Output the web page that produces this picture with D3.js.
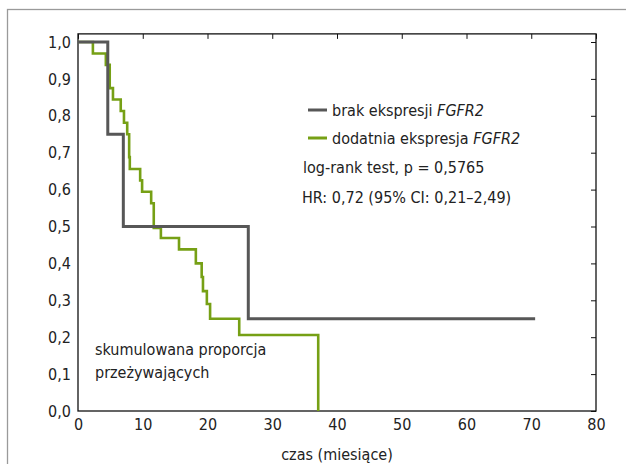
<!DOCTYPE html>
<html><head><meta charset="utf-8">
<script src="https://cdn.jsdelivr.net/npm/d3@7"></script>
<style>
html,body{margin:0;padding:0;background:#fff;}
svg{display:block;}
text{font-family:"Liberation Sans Narrow","DejaVu Sans Condensed",sans-serif;fill:#222;}
</style></head><body>
<svg id="c" width="626" height="464"></svg>
<script>
// Data
const xTicks = [0,10,20,30,40,50,60,70,80];
const yTicks = [0,0.1,0.2,0.3,0.4,0.5,0.6,0.7,0.8,0.9,1.0];
const grayTimes  = [0, 4.6, 7.0, 26.3, 70.6];
const graySurv   = [1.0, 0.75, 0.5, 0.25, 0.25];
const greenTimes = [0, 2.3, 4.3, 4.9, 5.4, 6.6, 7.1, 7.6, 7.9, 8.0, 9.6, 9.9, 11.3, 11.7, 12.8, 15.6, 18.2, 19.1, 19.3, 19.9, 20.4, 24.9, 37.1];
const greenSurv  = [1.0, 0.969, 0.938, 0.875, 0.844, 0.813, 0.781, 0.75, 0.688, 0.656, 0.625, 0.594, 0.563, 0.496, 0.469, 0.438, 0.40, 0.363, 0.325, 0.29, 0.25, 0.206, 0];
const legendLabels = [["brak ekspresji ","FGFR2"],["dodatnia ekspresja ","FGFR2"]];
const statLines = ["log-rank test, p = 0,5765","HR: 0,72 (95% CI: 0,21–2,49)"];

const svg = d3.select("#c");
const x = d3.scaleLinear().domain([0,80]).range([78,596]);
const y = d3.scaleLinear().domain([0,1]).range([411,42]);
const fmt = d => d3.format(".1f")(d).replace(".", ",");
const GRAY = "#575757", GREEN = "#76a015";
const FS = 16;

// outer frame
svg.append("rect").attr("x",7.5).attr("y",9.5).attr("width",640).attr("height",480)
  .attr("fill","none").attr("stroke","#9a9a9a").attr("stroke-width",1.3);

const topY = y(1.022);
// axes
const gx = svg.append("g").attr("transform",`translate(0,${y(0)})`)
  .call(d3.axisBottom(x).tickValues(xTicks).tickSize(0).tickPadding(8));
const gy = svg.append("g").attr("transform",`translate(${x(0)},0)`)
  .call(d3.axisLeft(y).tickValues(yTicks).tickFormat(fmt).tickSize(0).tickPadding(7));
[gx,gy].forEach(g=>{g.select(".domain").remove(); g.selectAll("text").attr("font-size",FS).attr("fill","#222").attr("font-family",null);});
// inner ticks on top and right
const gt = svg.append("g").attr("transform",`translate(0,${topY})`)
  .call(d3.axisTop(x).tickValues(xTicks).tickSize(-5).tickFormat(""));
const gr = svg.append("g").attr("transform",`translate(${x(80)},0)`)
  .call(d3.axisRight(y).tickValues(yTicks).tickSize(-5).tickFormat(""));
[gt,gr].forEach(g=>{g.select(".domain").remove(); g.selectAll("line").attr("stroke","#111");});
// box
svg.append("rect").attr("x",x(0)).attr("y",topY).attr("width",x(80)-x(0)).attr("height",y(0)-topY)
  .attr("fill","none").attr("stroke","#111").attr("stroke-width",1.3);

const line = d3.line().x(d=>x(d[0])).y(d=>y(d[1])).curve(d3.curveStepAfter);
svg.append("path").datum(greenTimes.map((t,i)=>[t,greenSurv[i]]))
  .attr("d",line).attr("fill","none").attr("stroke",GREEN).attr("stroke-width",2.6);
svg.append("path").datum(grayTimes.map((t,i)=>[t,graySurv[i]]))
  .attr("d",line).attr("fill","none").attr("stroke",GRAY).attr("stroke-width",3);

// legend
const lg = [[GRAY,110],[GREEN,138]];
lg.forEach((l,i)=>{
  svg.append("line").attr("x1",308).attr("x2",327).attr("y1",l[1]).attr("y2",l[1])
    .attr("stroke",l[0]).attr("stroke-width",3);
  const t = svg.append("text").attr("x",332).attr("y",l[1]+6).attr("font-size",FS);
  t.append("tspan").text(legendLabels[i][0]);
  t.append("tspan").attr("font-style","italic").text(legendLabels[i][1]);
});
svg.append("text").attr("x",303).attr("y",173).attr("font-size",FS).text(statLines[0]);
svg.append("text").attr("x",302).attr("y",203).attr("font-size",FS).text(statLines[1]);

svg.append("text").attr("x",95).attr("y",355).attr("font-size",FS).text("skumulowana proporcja");
svg.append("text").attr("x",95).attr("y",378).attr("font-size",FS).text("przeżywających");
svg.append("text").attr("x",337).attr("y",460).attr("font-size",FS).attr("text-anchor","middle").text("czas (miesiące)");
</script></body></html>
